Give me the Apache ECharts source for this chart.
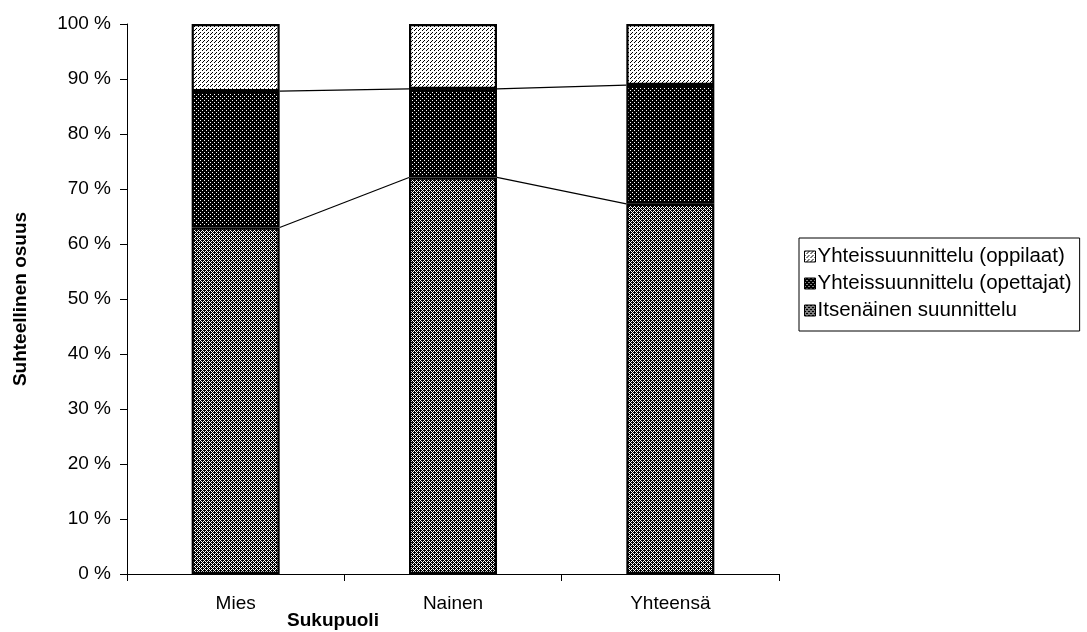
<!DOCTYPE html>
<html>
<head>
<meta charset="utf-8">
<script src="https://cdn.jsdelivr.net/npm/echarts@6/dist/echarts.min.js"></script>
<style>
  html, body { margin: 0; padding: 0; background: #fff; }
  #chart { width: 1087px; height: 632px; }
</style>
</head>
<body>
<div id="chart"></div>
<script>
// Planning mode shares by gender (stacked to 100 %)
var categories = ['Mies', 'Nainen', 'Yhteensä'];
var itsenainen = [63.0, 72.1, 67.3];    // Itsenäinen suunnittelu
var opettajat  = [24.8, 16.1, 21.6];    // Yhteissuunnittelu (opettajat)
var oppilaat   = [12.2, 11.8, 11.1];    // Yhteissuunnittelu (oppilaat)
var yTicks = [0, 10, 20, 30, 40, 50, 60, 70, 80, 90, 100];

var seriesNames = ['Itsenäinen suunnittelu', 'Yhteissuunnittelu (opettajat)', 'Yhteissuunnittelu (oppilaat)'];
var FONT = '"Liberation Sans", Arial, sans-serif';
var FS = 19;
var BAR_W = 88;

// Monochrome fill patterns drawn on small tiles
function tile(size, isBlack) {
  var c = document.createElement('canvas');
  c.width = size; c.height = size;
  var g = c.getContext('2d');
  g.fillStyle = '#fff'; g.fillRect(0, 0, size, size);
  g.fillStyle = '#000';
  for (var y = 0; y < size; y++) {
    for (var x = 0; x < size; x++) {
      if (isBlack(x, y)) g.fillRect(x, y, 1, 1);
    }
  }
  return { image: c, repeat: 'repeat' };
}
// black ground crossed by thin white diagonals
var patChecker = tile(4, function (x, y) { return !((x + y) % 4 === 0 || (x - y + 4) % 4 === 0); });
// near-black with sparse white dots
var patDark = tile(4, function (x, y) { return !((x === 0 && y === 0) || (x === 2 && y === 2)); });
// white with sparse black dots
var patLight = tile(4, function (x, y) { return (x === 0 && y === 0) || (x === 2 && y === 2) || (x === 3 && y === 1); });

// Series lines joining segment tops of neighbouring bars
function cumulative(level) {
  return categories.map(function (_, i) {
    var s = itsenainen[i];
    if (level > 1) s += opettajat[i];
    return s;
  });
}
function seriesLineData() {
  var out = [];
  [1, 2].forEach(function (level) {
    var cum = cumulative(level);
    for (var i = 0; i < categories.length - 1; i++) out.push([i, cum[i], cum[i + 1]]);
  });
  return out;
}

var chart = echarts.init(document.getElementById('chart'), null, { renderer: 'canvas' });

var barStyle = function (pat) {
  return { color: pat, borderColor: '#000', borderWidth: 2.2 };
};

chart.setOption({
  backgroundColor: '#fff',
  animation: false,
  grid: { left: 127, right: 308, top: 24, bottom: 58 },
  legend: {
    orient: 'vertical',
    left: 799, top: 238,
    data: [seriesNames[2], seriesNames[1], seriesNames[0]],
    icon: 'rect',
    itemWidth: 11, itemHeight: 11, itemGap: 6,
    padding: [8, 8, 10, 5],
    borderColor: '#000', borderWidth: 1,
    backgroundColor: '#fff',
    textStyle: { fontFamily: FONT, fontSize: 20.5, lineHeight: 20, color: '#000', padding: [0, 0, 0, -3] },
    itemStyle: { borderColor: '#000', borderWidth: 1 }
  },
  xAxis: {
    type: 'category',
    data: categories,
    name: 'Sukupuoli',
    nameLocation: 'start',
    nameGap: -206,
    nameTextStyle: { fontFamily: FONT, fontSize: FS, fontWeight: 'bold', color: '#000', align: 'center', verticalAlign: 'top', padding: [37, 0, 0, 0] },
    axisLine: { lineStyle: { color: '#000', width: 1 } },
    axisTick: { show: true, length: 7, lineStyle: { color: '#000' } },
    axisLabel: { fontFamily: FONT, fontSize: FS, color: '#000', margin: 20 },
    splitLine: { show: false }
  },
  yAxis: {
    type: 'value',
    min: yTicks[0], max: yTicks[yTicks.length - 1], interval: 10,
    name: 'Suhteellinen osuus',
    nameLocation: 'middle',
    nameGap: 97,
    nameTextStyle: { fontFamily: FONT, fontSize: FS, fontWeight: 'bold', color: '#000' },
    axisLine: { show: true, lineStyle: { color: '#000', width: 1 } },
    axisTick: { show: true, length: 7, lineStyle: { color: '#000' } },
    axisLabel: { fontFamily: FONT, fontSize: FS, color: '#000', margin: 16, formatter: '{value} %' },
    splitLine: { show: false }
  },
  series: [
    { name: seriesNames[0], type: 'bar', stack: 'all', barWidth: BAR_W, data: itsenainen, itemStyle: barStyle(patChecker) },
    { name: seriesNames[1], type: 'bar', stack: 'all', barWidth: BAR_W, data: opettajat, itemStyle: barStyle(patDark) },
    { name: seriesNames[2], type: 'bar', stack: 'all', barWidth: BAR_W, data: oppilaat, itemStyle: barStyle(patLight) },
    {
      type: 'custom',
      silent: true,
      z: 1,
      data: seriesLineData(),
      encode: { x: 0, y: [1, 2] },
      renderItem: function (params, api) {
        var a = api.coord([api.value(0), api.value(1)]);
        var b = api.coord([api.value(0) + 1, api.value(2)]);
        return {
          type: 'line',
          shape: { x1: a[0] + BAR_W / 2, y1: a[1], x2: b[0] - BAR_W / 2, y2: b[1] },
          style: { stroke: '#000', lineWidth: 1.2 }
        };
      }
    }
  ]
});
</script>
</body>
</html>
